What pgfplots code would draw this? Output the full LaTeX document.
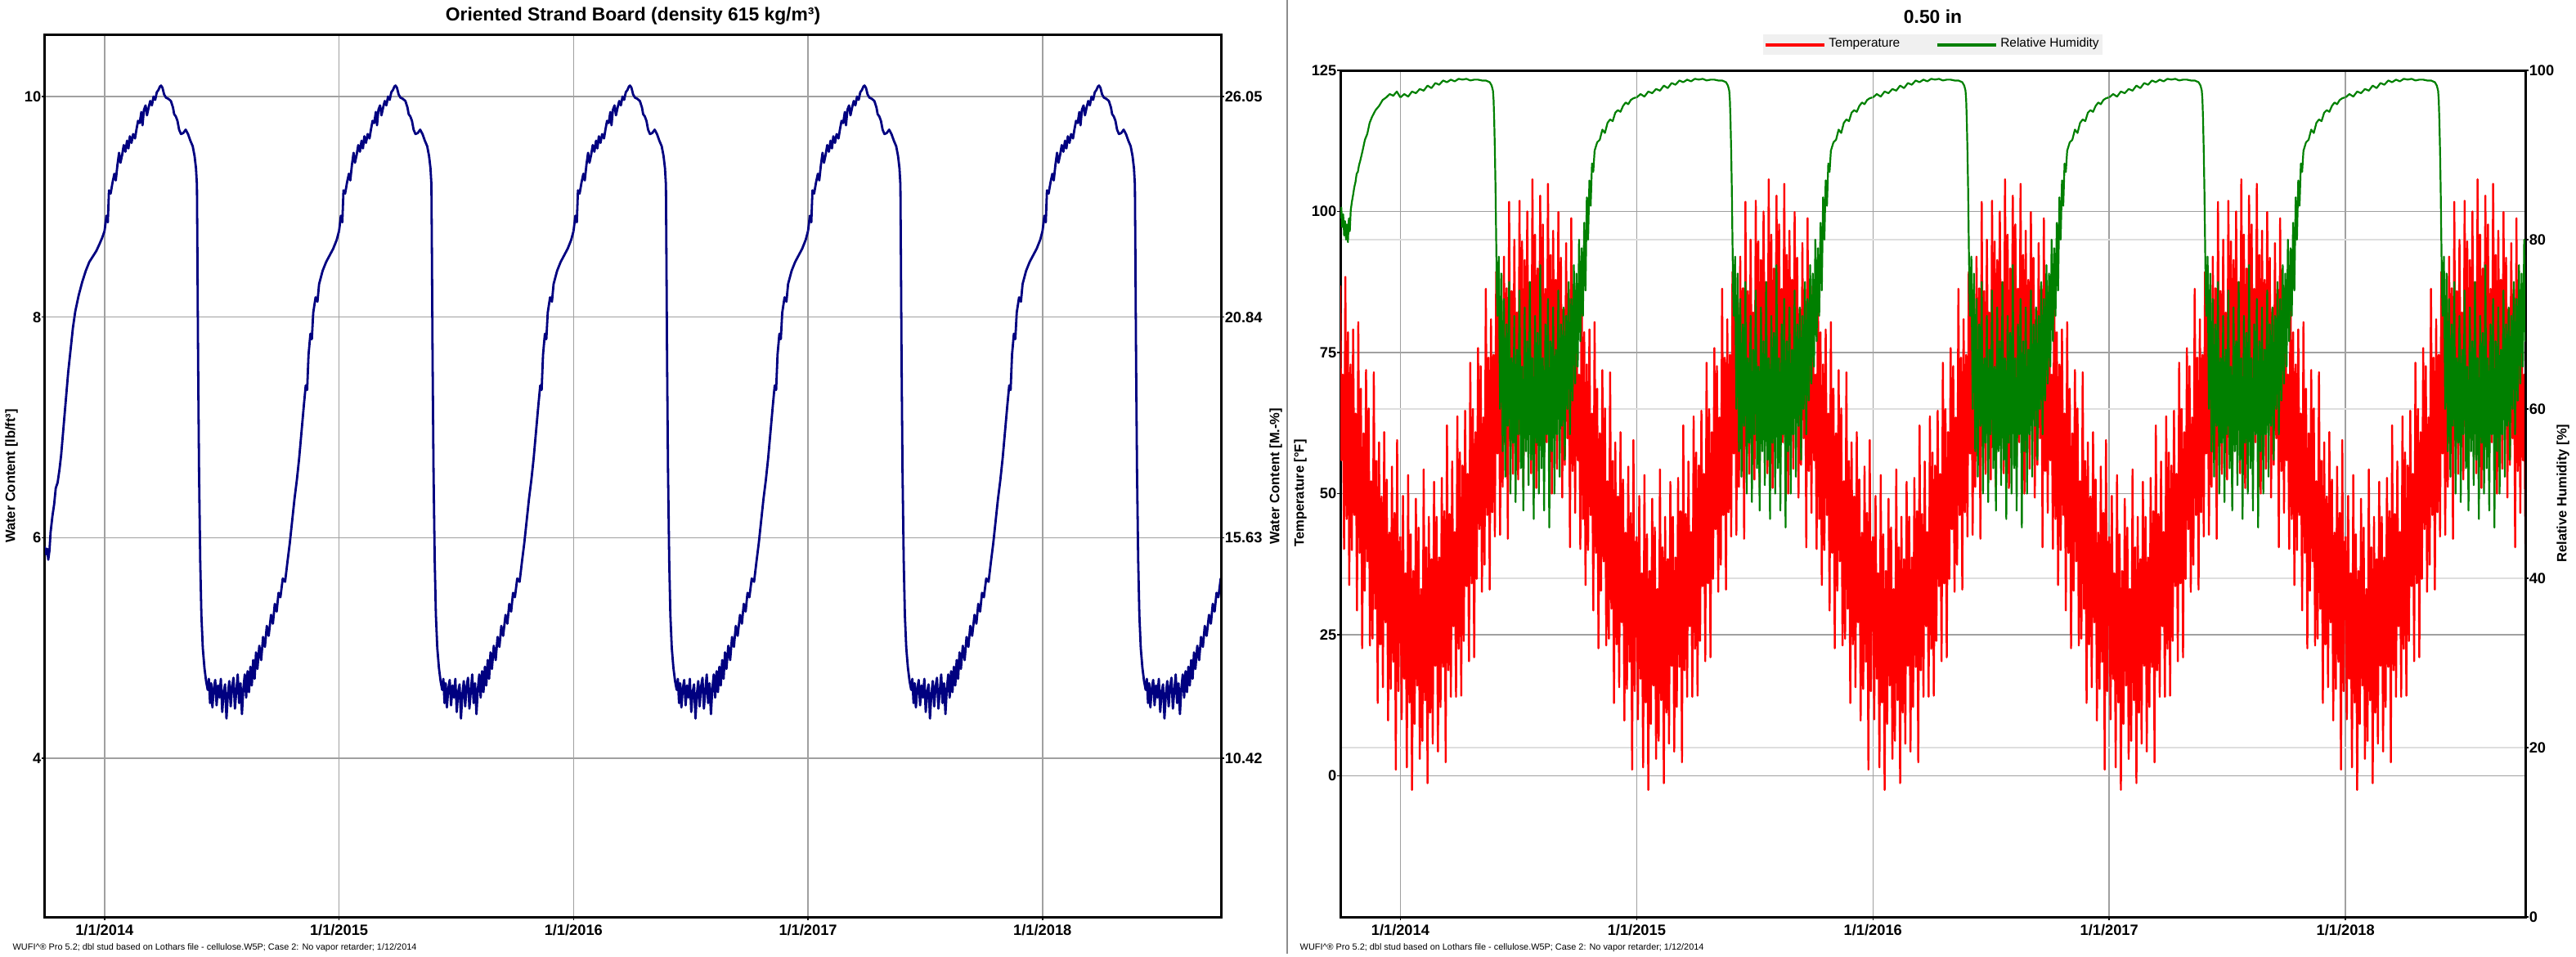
\documentclass[border=0pt]{standalone}
\usepackage{fontspec}
\setmainfont{Liberation Sans}
\usepackage{pgfplots}
\usepackage{pgfplotstable}
\pgfplotsset{compat=1.18}

\definecolor{wcblue}{RGB}{0,0,128}
\definecolor{tred}{RGB}{255,0,0}
\definecolor{rhgreen}{RGB}{0,128,0}
\definecolor{gridgray}{RGB}{160,160,160}
\definecolor{lightgrid}{RGB}{222,222,222}
\definecolor{legendgray}{RGB}{240,240,240}
\definecolor{divider}{RGB}{140,140,140}

\newcommand\ticksfont{\fontsize{5.2}{6}\selectfont\bfseries}
\newcommand\labelfont{\fontsize{4.7}{5.6}\selectfont\bfseries}
\newcommand\titlefont{\fontsize{6.5}{7.6}\selectfont\bfseries}
\newcommand\legendfont{\fontsize{4.4}{5.2}\selectfont}
\newcommand\footfont{\fontsize{3.1}{3.7}\selectfont}

% water content, first (partial) season, t in years from 1/1/2014
\pgfplotstableread{
t w
-0.255 5.92
-0.250 5.85
-0.245 5.90
-0.240 5.80
-0.235 5.88
-0.230 6.05
-0.222 6.20
-0.215 6.30
-0.208 6.45
-0.200 6.50
-0.192 6.62
-0.185 6.75
-0.175 7.00
-0.165 7.25
-0.155 7.50
-0.145 7.70
-0.135 7.90
-0.125 8.05
-0.110 8.20
-0.095 8.32
-0.080 8.42
-0.065 8.50
-0.050 8.55
-0.035 8.60
-0.020 8.67
-0.010 8.72
0.000 8.78
}\wcfirst

% water content, one year (phase from 1 January)
\pgfplotstableread{
p w
0.000 8.78
0.008 8.92
0.014 8.86
0.019 9.15
0.026 9.12
0.034 9.22
0.042 9.30
0.048 9.24
0.055 9.38
0.062 9.49
0.068 9.40
0.075 9.47
0.082 9.56
0.089 9.50
0.096 9.60
0.102 9.53
0.108 9.64
0.115 9.58
0.122 9.66
0.130 9.62
0.136 9.70
0.143 9.78
0.150 9.76
0.157 9.86
0.162 9.74
0.168 9.88
0.175 9.92
0.181 9.83
0.188 9.90
0.195 9.96
0.202 9.92
0.209 10.00
0.216 9.97
0.223 10.04
0.230 10.06
0.236 10.09
0.241 10.10
0.247 10.08
0.254 10.02
0.262 9.99
0.272 9.98
0.283 9.96
0.292 9.90
0.297 9.84
0.304 9.82
0.311 9.78
0.318 9.70
0.326 9.66
0.336 9.67
0.346 9.70
0.356 9.66
0.366 9.60
0.376 9.55
0.384 9.46
0.390 9.35
0.394 9.20
0.396 8.60
0.399 7.60
0.403 6.60
0.408 5.80
0.413 5.30
0.419 5.00
0.426 4.82
0.433 4.70
0.440 4.62
0.445 4.72
0.450 4.50
0.455 4.68
0.460 4.46
0.466 4.63
0.472 4.71
0.478 4.48
0.484 4.66
0.490 4.55
0.496 4.72
0.502 4.42
0.508 4.60
0.514 4.67
0.520 4.36
0.526 4.58
0.532 4.70
0.538 4.47
0.544 4.65
0.550 4.73
0.556 4.45
0.562 4.61
0.568 4.76
0.574 4.50
0.580 4.68
0.586 4.40
0.592 4.63
0.598 4.76
0.604 4.55
0.610 4.79
0.616 4.60
0.622 4.83
0.628 4.66
0.634 4.89
0.640 4.72
0.646 4.96
0.652 4.81
0.660 5.02
0.668 4.89
0.676 5.10
0.684 5.01
0.692 5.20
0.700 5.11
0.710 5.30
0.718 5.22
0.726 5.40
0.734 5.33
0.742 5.50
0.750 5.46
0.760 5.63
0.770 5.60
0.780 5.78
0.790 5.95
0.800 6.15
0.810 6.35
0.820 6.52
0.830 6.72
0.840 6.96
0.850 7.20
0.858 7.38
0.864 7.34
0.870 7.66
0.878 7.85
0.884 7.80
0.890 8.04
0.900 8.18
0.908 8.14
0.915 8.30
0.930 8.42
0.945 8.50
0.960 8.56
0.975 8.62
0.990 8.70
1.000 8.78
}\wcyear

% temperature [F], one year, d = day from 1 January
\pgfplotstableread{
d T
0 42.4
2 10.0
4 49.6
6 17.2
8 35.9
10 1.5
12 53.3
14 13.0
16 42.8
18 -2.5
20 36.3
22 9.2
24 49.1
26 16.0
28 44.0
30 3.0
32 33.1
34 6.2
36 54.3
38 13.4
40 40.5
42 -1.3
44 45.9
46 11.2
48 38.4
50 5.7
52 52.1
54 19.5
56 45.9
58 4.3
60 38.7
62 12.2
64 52.8
66 19.3
68 46.9
70 2.4
72 62.1
74 18.7
76 46.4
78 14.0
80 55.7
82 26.5
84 43.2
86 14.0
88 63.7
90 22.5
92 57.3
94 14.2
96 55.0
98 23.9
100 64.7
102 33.6
104 53.5
106 20.3
108 73.2
110 34.1
112 65.0
114 21.0
116 60.9
118 34.9
120 75.8
122 43.7
124 72.6
126 32.6
128 63.5
130 37.4
132 86.3
134 46.2
136 74.1
138 33.0
140 80.9
142 46.7
144 74.6
146 42.4
148 89.3
150 57.1
152 83.9
154 42.7
156 77.4
158 51.2
160 92.0
162 58.7
164 86.4
166 42.0
168 101.7
170 58.4
172 85.9
174 53.5
176 95.0
178 65.6
180 82.1
182 52.5
184 101.9
186 60.3
188 94.7
190 51.1
192 91.4
194 59.7
196 100.0
198 68.2
200 87.5
202 53.6
204 105.7
206 65.8
208 95.9
210 51.0
212 89.9
214 62.9
216 102.8
218 69.8
220 97.7
222 56.5
224 86.3
226 59.1
228 104.9
230 65.7
232 92.3
234 50.0
236 96.6
238 61.3
240 87.9
242 54.4
244 99.9
246 66.3
248 91.8
250 49.3
252 82.7
254 55.1
256 94.4
258 59.8
260 86.2
262 40.5
264 98.8
266 54.0
268 80.3
270 46.6
272 86.8
274 55.9
276 71.1
278 40.2
280 88.4
282 45.5
284 78.6
286 33.8
288 72.9
290 40.0
292 79.1
294 46.2
296 64.2
298 29.3
300 80.4
302 39.5
304 68.6
306 22.6
308 60.7
310 32.8
312 71.9
314 38.0
316 65.1
318 23.1
320 52.2
322 24.3
324 71.5
326 29.6
328 55.8
330 12.9
332 59.1
334 23.3
336 49.5
338 15.7
340 60.9
342 27.2
344 52.5
346 9.8
348 43.1
350 15.4
352 54.8
354 20.2
356 46.6
358 1.1
360 59.5
362 15.0
364 41.6
}\tempyear

% relative humidity [%], first (partial) season
\pgfplotstableread{
t rh
-0.255 82.5
-0.250 83.8
-0.246 81.5
-0.242 83.0
-0.238 80.5
-0.234 82.2
-0.230 80.0
-0.226 81.8
-0.222 79.7
-0.218 82.5
-0.214 81.0
-0.210 83.5
-0.205 84.5
-0.200 85.3
-0.195 86.2
-0.190 86.8
-0.185 87.8
-0.180 88.0
-0.175 88.8
-0.170 89.3
-0.160 90.5
-0.150 91.8
-0.140 92.5
-0.130 93.8
-0.120 94.5
-0.105 95.3
-0.090 95.8
-0.075 96.5
-0.060 96.8
-0.045 97.2
-0.030 97.0
-0.015 97.5
0.000 96.8
}\rhfirst

% relative humidity [%], one year, d = day from 1 January
\pgfplotstableread{
d rh
0 96.8
6 97.2
12 96.9
18 97.5
24 97.3
30 97.8
36 97.6
42 98.2
48 97.9
54 98.5
60 98.3
66 98.8
72 98.6
78 98.9
84 98.7
90 99.0
96 98.9
102 99.0
108 98.8
114 98.9
120 98.9
126 98.8
132 98.8
138 98.6
141 98.2
143 97.6
144 96.5
145 94.0
146 90.5
147 86.0
148 80.0
149 74.0
150 71.0
152 78
154 60
156 76
158 55
160 73
162 52
164 70
166 58
168 75
170 50
172 66
174 56
176 71
178 49
180 67
182 57
184 74
186 53
188 65
190 48
192 72
194 55
196 68
198 51
200 75
202 54
204 66
206 47
208 71
210 56
212 69
214 50
216 77
218 53
220 66
222 48
224 70
226 57
228 73
230 46
232 68
234 55
236 72
238 50
240 67
242 57
244 74
246 52
248 70
250 58
252 72
254 54
256 71
258 60
260 75
262 57
264 73
266 61
268 77
270 63
272 76
274 65
276 80
278 68
280 79
282 71
284 82
286 74
288 85
290 80
292 87
294 84
296 89
298 88
300 90.5
304 91.5
308 91.8
312 93.0
316 92.6
320 93.8
324 94.2
328 94.0
332 95.0
336 95.3
340 95.1
344 95.8
348 96.2
352 96.0
356 96.5
360 96.7
364 96.8
}\rhyear

\pgfplotsset{
  panel/.style={
    scale only axis,
    xmin=-0.254, xmax=4.761,
    tick align=outside,
    major tick length=0.4mm,
    tick style={line width=0.15mm, black},
    axis line style={line width=0.3mm},
    tick label style={font=\ticksfont, inner sep=0pt},
    /pgf/number format/assume math mode=true,
  },
}

\begin{document}
\begin{tikzpicture}
\useasboundingbox (0,0) rectangle (315mm,-116.9mm);

% left panel: water content
\begin{axis}[panel,
  at={(5.5mm,-112.1mm)}, anchor=south west,
  width=143.8mm, height=107.9mm,
  ymin=2.561, ymax=10.564,
  xtick={0,1,2,3,4},
  xticklabels={1/1/2014,1/1/2015,1/1/2016,1/1/2017,1/1/2018},
  ytick={4,6,8,10},
  tick pos=left,
  grid=major,
  major grid style={line width=0.15mm, gridgray},
  xticklabel style={yshift=-0.45mm},
]
\addplot[wcblue, line width=0.28mm, line join=round] table[x=t, y=w]{\wcfirst};
\pgfplotsinvokeforeach{0,1,2,3,4}{
  \addplot[wcblue, line width=0.28mm, line join=round] table[x expr=\thisrow{p}+#1, y=w]{\wcyear};
}
\end{axis}

\begin{axis}[panel,
  at={(5.5mm,-112.1mm)}, anchor=south west,
  width=143.8mm, height=107.9mm,
  ymin=2.561, ymax=10.564,
  axis x line=none, axis y line*=right,
  xtick=\empty,
  ytick={4,6,8,10},
  yticklabels={10.42,15.63,20.84,26.05},
]
\end{axis}

% right panel: temperature and relative humidity
\begin{axis}[panel,
  at={(163.9mm,-112.1mm)}, anchor=south west,
  width=144.9mm, height=103.5mm,
  ymin=-25, ymax=125,
  xtick={0,1,2,3,4},
  xticklabels={1/1/2014,1/1/2015,1/1/2016,1/1/2017,1/1/2018},
  ytick={0,25,50,75,100,125},
  minor ytick={5,35,65,95},
  minor tick length=0pt,
  tick pos=left,
  grid=both,
  major grid style={line width=0.15mm, gridgray},
  minor grid style={line width=0.12mm, lightgrid},
  xticklabel style={yshift=-0.45mm},
  legend columns=2,
  legend style={at={(0.5,1)}, anchor=south, yshift=1.8mm,
    fill=legendgray, draw=none, font=\legendfont, inner sep=0.1mm,
    nodes={inner sep=0.35mm},
    /tikz/every even column/.append style={column sep=4mm}},
  legend image code/.code={\draw[#1, line width=0.4mm] (0mm,0mm) -- (7.2mm,0mm);},
]
\addlegendimage{tred}
\addlegendentry{Temperature}
\addlegendimage{rhgreen}
\addlegendentry{Relative Humidity}
\pgfplotsinvokeforeach{-1,0,1,2,3,4}{
  \addplot[tred, line width=0.24mm, line join=round, forget plot] table[x expr=\thisrow{d}/365+#1, y=T]{\tempyear};
}
\end{axis}

\begin{axis}[panel,
  at={(163.9mm,-112.1mm)}, anchor=south west,
  width=144.9mm, height=103.5mm,
  ymin=0, ymax=100,
  axis x line=none, axis y line*=right,
  xtick=\empty,
  ytick={0,20,40,60,80,100},
]
\addplot[rhgreen, line width=0.22mm, line join=round] table[x=t, y=rh]{\rhfirst};
\pgfplotsinvokeforeach{0,1,2,3,4}{
  \addplot[rhgreen, line width=0.22mm, line join=round] table[x expr=\thisrow{d}/365+#1, y=rh]{\rhyear};
}
\end{axis}

% divider, titles, axis labels, footnotes
\draw[divider, line width=0.2mm] (157.4mm,0) -- (157.4mm,-116.6mm);
\node[font=\titlefont] at (77.4mm,-2.0mm) {Oriented Strand Board (density 615 kg/m³)};
\node[font=\titlefont] at (236.35mm,-2.0mm) {0.50 in};
\node[font=\labelfont, rotate=90] at (1.4mm,-58.2mm) {Water Content [lb/ft³]};
\node[font=\labelfont, rotate=90] at (156.0mm,-58.2mm) {Water Content [M.-\%]};
\node[font=\labelfont, rotate=90] at (159.0mm,-60.3mm) {Temperature [°F]};
\node[font=\labelfont, rotate=90] at (313.4mm,-60.3mm) {Relative Humidity [\%]};
\node[font=\footfont, anchor=west, inner sep=0pt] at (1.5mm,-115.9mm)
  {WUFI\textasciicircum® Pro 5.2; dbl stud based on Lothars file - cellulose.W5P; Case 2: No vapor retarder; 1/12/2014};
\node[font=\footfont, anchor=west, inner sep=0pt] at (158.9mm,-115.9mm)
  {WUFI\textasciicircum® Pro 5.2; dbl stud based on Lothars file - cellulose.W5P; Case 2: No vapor retarder; 1/12/2014};
\end{tikzpicture}
\end{document}
